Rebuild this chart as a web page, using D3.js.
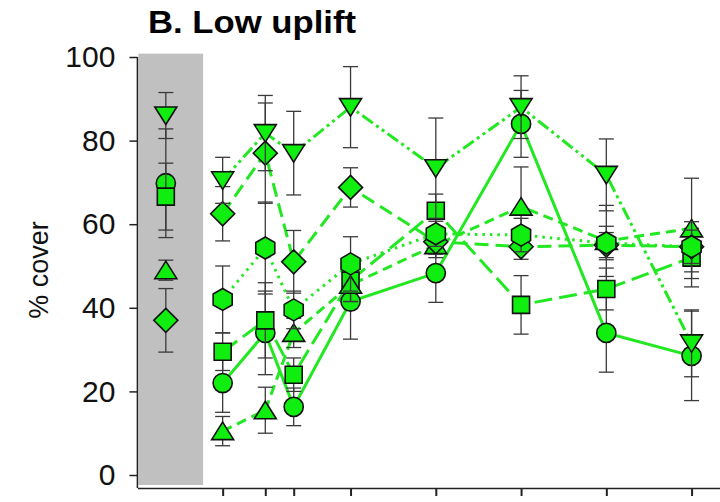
<!DOCTYPE html>
<html><head><meta charset="utf-8">
<script src="https://cdn.jsdelivr.net/npm/d3@7"></script>
<style>html,body{margin:0;padding:0;background:#fff;}svg{display:block;font-family:"Liberation Sans",Arial,sans-serif;}</style>
</head><body>
<svg id="chart" width="720" height="502"></svg>
<script>
// ---- data (months since event; baseline plotted before 0) ----
const months = [0, 6, 10, 18, 30, 42, 54, 66];
const baselineMonth = -8;
const yTicks = [0, 20, 40, 60, 80, 100];
const title = "B. Low uplift";
const yLabel = "% cover";

const circleVals   = [22, 34, 16.3, 41.5, 48.3, 84, 34, 28.5];
const circleErr    = [7, 10, 4.5, 9, 7, 8, 9.4, 10.7];
const squareVals   = [29.5, 37, 24, 46.5, 63.2, 40.7, 44.5, 52];
const squareErr    = [4.5, 9, 4, 5, 4, 7, 5, 7];
const triUpVals    = [10.5, 15.5, 34, 45.5, 55, 64.2, 56, 59];
const triUpErr     = [3.5, 5.5, 3.5, 4, 3, 9.5, 8.5, 12];
const triDownVals  = [70.5, 81.8, 77, 88, 73.4, 88, 71.8, 31.5];
const triDownErr   = [5.5, 9, 10, 9.7, 12, 7.5, 8.6, 8];
const diamondVals  = [62.5, 77, 51, 68.8, 55.8, 54.6, 55, 54.6];
const diamondErr   = [6.5, 12, 7.5, 4.7, 3, 3, 3, 4];
const hexagonVals  = [42, 54.3, 39.5, 50.5, 57.7, 57.4, 55.5, 54.6];
const hexagonErr   = [8, 11, 4.5, 6.5, 3, 4, 4, 6];

// baseline (unconnected) values
const baseSeries = ["circle", "square", "triUp", "triDown", "diamond"];
const baseVals   = [69.8, 66.6, 49, 86, 37];
const baseErr    = [13, 8, 2.4, 5.5, 7.6];

// ---- layout ----
const svg = d3.select("#chart");
const x = d3.scaleLinear().domain([-12, 70]).range([137.4, 720]);
const y = d3.scaleLinear().domain([0, 100]).range([475, 57]);
const axisY = 488;

const lineColor = "#22e822";
const fillColor = "#10ee10";

const series = [
  {key: "circle",  vals: circleVals,  err: circleErr,  dash: null},
  {key: "square",  vals: squareVals,  err: squareErr,  dash: "18,7"},
  {key: "triUp",   vals: triUpVals,   err: triUpErr,   dash: "10,6"},
  {key: "diamond", vals: diamondVals, err: diamondErr, dash: "14,7"},
  {key: "triDown", vals: triDownVals, err: triDownErr, dash: "13,4,3,4,3,4"},
  {key: "hexagon", vals: hexagonVals, err: hexagonErr, dash: "2.5,5"}
];

function shapePath(k) {
  switch (k) {
    case "circle": return d3.symbol(d3.symbolCircle, Math.PI * 9.6 * 9.6)();
    case "square": return "M-8.5,-8.5H8.5V8.5H-8.5Z";
    case "triUp": return "M0,-9L11,8.5L-11,8.5Z";
    case "triDown": return "M0,9L11,-8.5L-11,-8.5Z";
    case "diamond": return "M0,-12L12,0L0,12L-12,0Z";
    case "hexagon": {
      const p = d3.path();
      for (let i = 0; i < 6; i++) {
        const a = -Math.PI / 2 + i * Math.PI / 3;
        const px = 11 * Math.cos(a), py = 11 * Math.sin(a);
        if (i === 0) p.moveTo(px, py); else p.lineTo(px, py);
      }
      p.closePath();
      return p.toString();
    }
  }
}

// shaded baseline period
svg.append("rect")
  .attr("x", x(-12) + 1).attr("y", y(100.8))
  .attr("width", x(-2.75) - x(-12) - 1).attr("height", (axisY - 3) - y(100.8))
  .attr("fill", "#c0c0c0");

// axes
const yAxis = d3.axisLeft(y).tickValues(yTicks).tickSize(8).tickPadding(14).tickSizeOuter(0);
const gy = svg.append("g").attr("transform", `translate(${x(-12)},0)`).call(yAxis);
gy.select(".domain").remove();
gy.selectAll(".tick line").attr("stroke", "#222").attr("stroke-width", 1.5);
gy.selectAll(".tick text").attr("font-size", 30).attr("fill", "#111")
  .attr("font-family", '"Liberation Sans",Arial,sans-serif');
svg.append("line").attr("x1", x(-12)).attr("x2", x(-12)).attr("y1", y(100)).attr("y2", axisY)
  .attr("stroke", "#222").attr("stroke-width", 1.5);

const xAxis = d3.axisBottom(x).tickValues(months).tickSize(8).tickFormat("").tickSizeOuter(0);
const gx = svg.append("g").attr("transform", `translate(0,${axisY})`).call(xAxis);
gx.select(".domain").attr("stroke", "#222").attr("stroke-width", 1.5);
gx.selectAll(".tick line").attr("stroke", "#222").attr("stroke-width", 2);

// title & label
svg.append("text").attr("x", 148).attr("y", 33).attr("font-size", 32).attr("font-weight", "bold")
  .attr("fill", "#000").attr("textLength", 208).attr("lengthAdjust", "spacingAndGlyphs").text(title);
svg.append("text").attr("transform", `translate(48,270) rotate(-90)`).attr("text-anchor", "middle")
  .attr("font-size", 27).attr("fill", "#111").text(yLabel);

// lines
const lineGen = d3.line().x((d, i) => x(months[i])).y(d => y(d));
series.forEach(s => {
  svg.append("path").datum(s.vals).attr("d", lineGen)
    .attr("fill", "none").attr("stroke", lineColor).attr("stroke-width", 3)
    .attr("stroke-dasharray", s.dash);
});

function drawErr(g, cx, v, e) {
  g.append("line").attr("x1", cx).attr("x2", cx).attr("y1", y(v + e)).attr("y2", y(v - e))
    .attr("stroke", "#3a3a3a").attr("stroke-width", 1.3);
  [v + e, v - e].forEach(t => {
    g.append("line").attr("x1", cx - 7.5).attr("x2", cx + 7.5).attr("y1", y(t)).attr("y2", y(t))
      .attr("stroke", "#3a3a3a").attr("stroke-width", 1.3);
  });
}
function drawMark(g, key, cx, v) {
  g.append("path").attr("d", shapePath(key)).attr("transform", `translate(${cx},${y(v)})`)
    .attr("fill", fillColor).attr("stroke", "#111").attr("stroke-width", 1.6);
}

// baseline points
const gb = svg.append("g");
const baseOrder = ["circle", "square", "triUp", "diamond", "triDown"];
baseOrder.forEach(k => {
  const i = baseSeries.indexOf(k);
  drawErr(gb, x(baselineMonth), baseVals[i], baseErr[i]);
  drawMark(gb, k, x(baselineMonth), baseVals[i]);
});

// series error bars + markers
series.forEach(s => {
  const g = svg.append("g");
  s.vals.forEach((v, i) => drawErr(g, x(months[i]), v, s.err[i]));
  s.vals.forEach((v, i) => drawMark(g, s.key, x(months[i]), v));
});
</script>
</body></html>
